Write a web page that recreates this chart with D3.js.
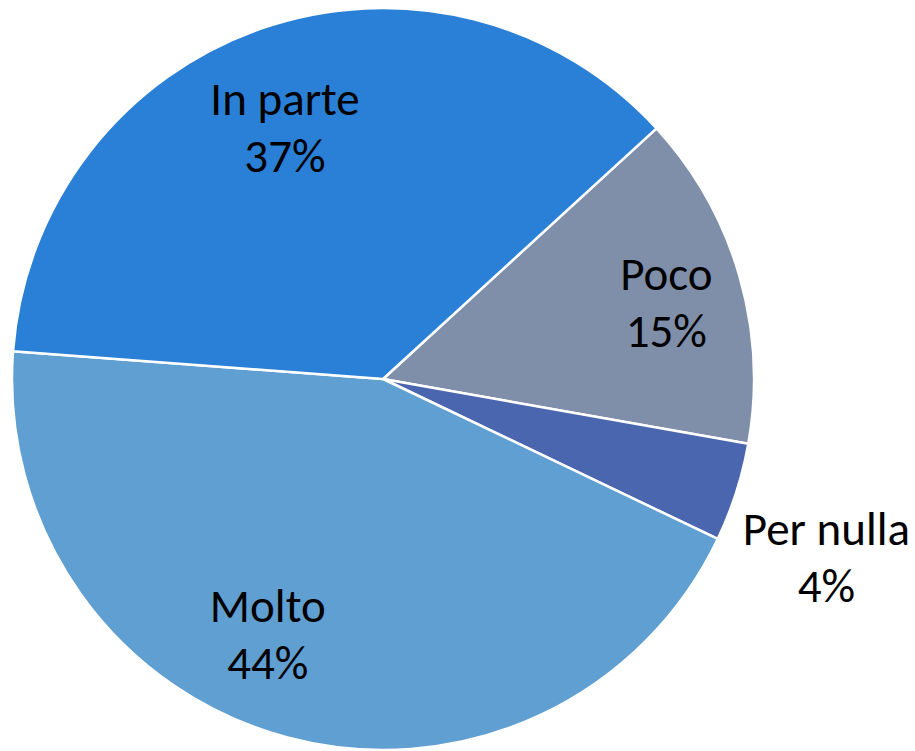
<!DOCTYPE html>
<html>
<head>
  <style>
    body {
      margin: 0;
      background: white;
    }
    text {
      font-family: Carlito, Lato, "Open Sans", sans-serif;
      font-size: 47px;
      fill: black;
    }
  </style>
</head>
<body>
  <div id="chart"></div>
  <script src="https://d3js.org/d3.v7.min.js"></script>
  <script>
    var width = 915, height = 751;

    // clockwise from the Poco slice
    var categories = ["Poco", "Per nulla", "Molto", "In parte"];
    var values = [14.6, 4.3, 44.1, 37.0];
    var labels = ["15%", "4%", "44%", "37%"];
    var colours = ["#7f8fa9", "#4a66ae", "#609fd2", "#2a7fd6"];

    var cx = 383, cy = 379, radius = 371;

    var data = categories.map((c, i) => ({ name: c, value: values[i], label: labels[i], colour: colours[i] }));

    var svg = d3.select("#chart").append("svg")
        .attr("width", width)
        .attr("height", height);

    var pie = d3.pie()
        .sort(null)
        .value(d => d.value)
        .startAngle(47.5 * Math.PI / 180)
        .endAngle(47.5 * Math.PI / 180 + 2 * Math.PI);

    var arc = d3.arc().innerRadius(0).outerRadius(radius);

    var g = svg.append("g").attr("transform", "translate(" + cx + "," + cy + ")");

    g.selectAll("path")
        .data(pie(data))
      .enter().append("path")
        .attr("d", arc)
        .style("fill", d => d.data.colour)
        .style("stroke", "white")
        .style("stroke-width", 2.5)
        .style("stroke-linejoin", "round");

    // "best fit" style placement: [angle shift in degrees, radius fraction]
    var placement = {
      "Poco": [1.4, 0.79],
      "Per nulla": [4.3, 1.29],
      "Molto": [9.2, 0.76],
      "In parte": [-2.3, 0.724]
    };

    var labelPos = d => {
      var p = placement[d.data.name];
      var a = (d.startAngle + d.endAngle) / 2 + p[0] * Math.PI / 180;
      var r = radius * p[1];
      return [r * Math.sin(a), -r * Math.cos(a)];
    };

    var lab = g.selectAll("g.lab")
        .data(pie(data))
      .enter().append("g")
        .attr("class", "lab")
        .attr("transform", d => "translate(" + labelPos(d) + ")");

    lab.append("text")
        .attr("text-anchor", "middle")
        .attr("y", -14)
        .text(d => d.data.name);

    lab.append("text")
        .attr("text-anchor", "middle")
        .attr("y", 43)
        .text(d => d.data.label);
  </script>
</body>
</html>
